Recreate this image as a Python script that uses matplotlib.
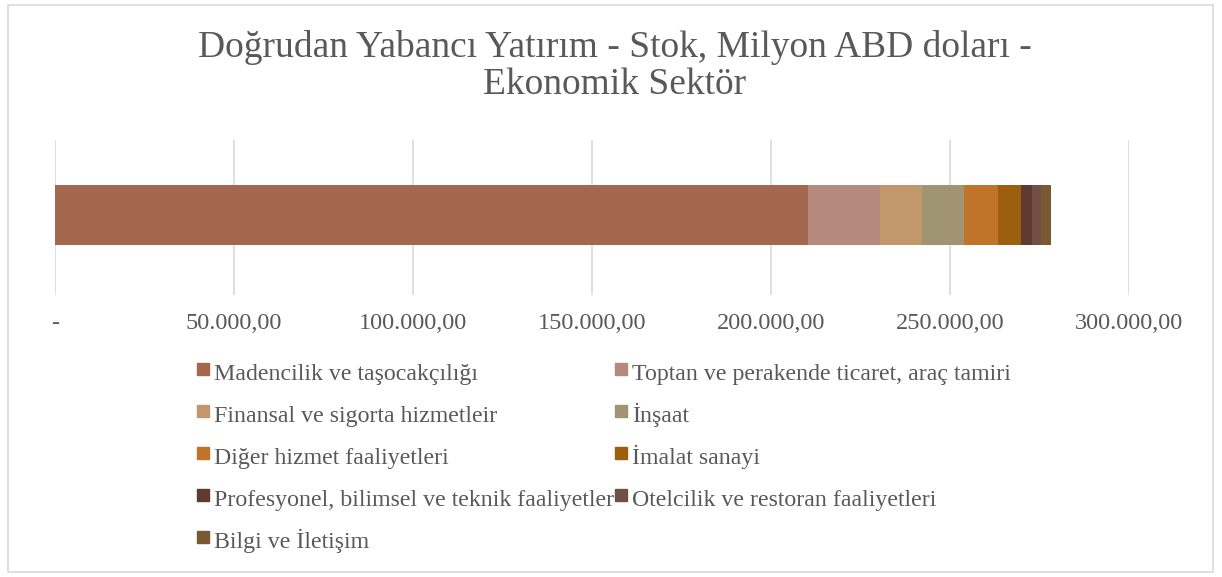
import numpy as np
import matplotlib
matplotlib.use("Agg")
import matplotlib.pyplot as plt
from matplotlib.patches import Rectangle
from matplotlib.lines import Line2D
from matplotlib.ticker import FuncFormatter, MultipleLocator

# sector values (stock, million USD)
sectors = [
    "Madencilik ve taşocakçılığı",
    "Toptan ve perakende ticaret, araç tamiri",
    "Finansal ve sigorta hizmetleir",
    "İnşaat",
    "Diğer hizmet faaliyetleri",
    "İmalat sanayi",
    "Profesyonel, bilimsel ve teknik faaliyetler",
    "Otelcilik ve restoran faaliyetleri",
    "Bilgi ve İletişim",
]
values = [210300, 20100, 11700, 11700, 9500, 6400, 3100, 2700, 2600]
colors = ["#A5664E", "#B5897D", "#C2976B", "#A09473", "#C0742A",
          "#9C5F0F", "#603A31", "#724F45", "#7A5834"]

title = "Doğrudan Yabancı Yatırım - Stok, Milyon ABD doları -\nEkonomik Sektör"

plt.rcParams['font.family'] = ['Liberation Serif', 'DejaVu Serif']
grey = "#595959"

fig = plt.figure(figsize=(12.22, 5.77), dpi=100)
ax = fig.add_axes([55/1222, 1 - 295/577, (1129 - 55)/1222, (295 - 140)/577])

left = 0
for name, v, c in zip(sectors, values, colors):
    ax.barh(0.015, v, left=left, height=0.39, color=c, label=name, zorder=3)
    left += v

ax.set_xlim(0, 300000)
ax.set_ylim(-0.5, 0.5)
ax.xaxis.set_major_locator(MultipleLocator(50000))


def tr_fmt(v, pos):
    if v == 0:
        return "-"
    s = f"{v:,.2f}"
    return s.replace(",", "X").replace(".", ",").replace("X", ".")


ax.xaxis.set_major_formatter(FuncFormatter(tr_fmt))
ax.set_yticks([])
ax.tick_params(axis='x', length=0, pad=13, labelsize=17.5, labelcolor=grey)
ax.grid(axis='x', color="#D9D9D9", linewidth=1.2, zorder=0)
for s in ax.spines.values():
    s.set_visible(False)

fig.text(615/1222, 1 - 66/577, title, ha='center', va='center',
         fontsize=27, color=grey, linespacing=1.1)

# square markers as legend handles so every row gets the same height
# legend is filled row by row in the original, matplotlib fills columns
order = [0, 2, 4, 6, 8, 1, 3, 5, 7]
proxies = [Line2D([], [], marker='s', ls='', markersize=8, color=colors[i])
           for i in order]
leg = fig.legend(proxies, [sectors[i] for i in order],
                 ncol=2, loc='upper left', bbox_to_anchor=(184/1222, 1 - 346/577),
                 frameon=False, fontsize=17.2, labelcolor=grey,
                 handlelength=0.6, handleheight=1.4, handletextpad=0.15,
                 columnspacing=0.0, labelspacing=0.61, borderpad=0)

fig.patches.append(Rectangle((8/1222, 5/577), 1205/1222, 567/577,
                             transform=fig.transFigure, fill=False,
                             edgecolor="#D9D9D9", linewidth=1.2))

fig.savefig("out.png", dpi=100)
